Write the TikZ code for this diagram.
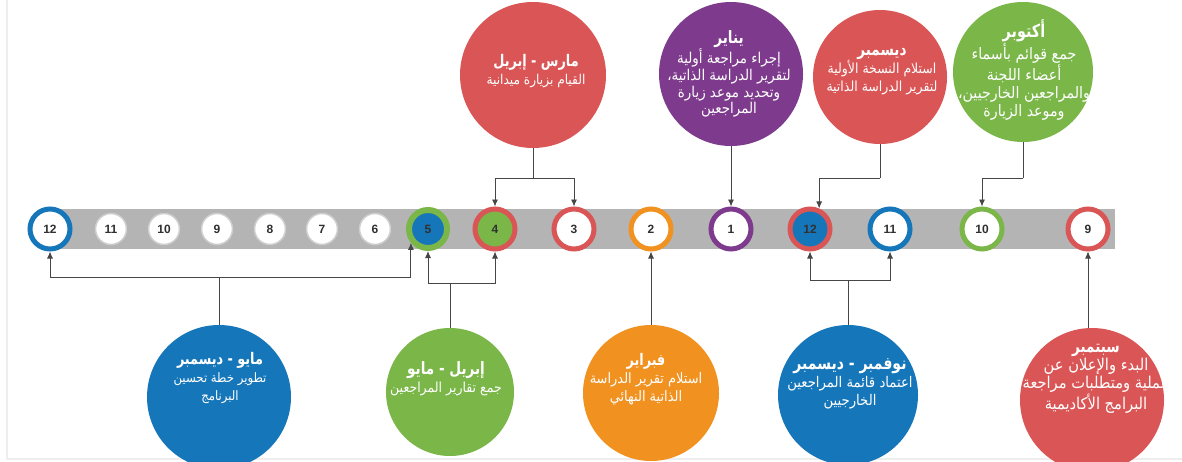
\documentclass[tikz,border=0pt]{standalone}
\usepackage{fontspec}
\setmainfont{Liberation Sans}
\newfontfamily\arabicfont[Script=Arabic,FakeStretch=0.9]{DejaVu Sans}
\newfontfamily\arabichead[Script=Arabic,FakeStretch=0.8]{DejaVu Sans}
\TeXXeTstate=1
\usetikzlibrary{arrows.meta}

% one right-to-left line
\newcommand\rl[1]{\beginR#1\endR}
% bold heading line of a bubble
\newcommand\hd[2][17]{{\arabichead\bfseries\fontsize{#1}{18}\selectfont\beginR#2\endR}}

\definecolor{cred}{RGB}{218,85,85}
\definecolor{cpurple}{RGB}{126,58,140}
\definecolor{cgreen}{RGB}{122,182,72}
\definecolor{corange}{RGB}{240,145,32}
\definecolor{cblue}{RGB}{22,118,186}
\definecolor{bargray}{RGB}{180,180,180}
\definecolor{halo}{RGB}{206,206,206}
\definecolor{numgray}{RGB}{48,48,48}
\definecolor{linegray}{RGB}{70,70,70}
\definecolor{framegray}{RGB}{238,238,238}

\tikzset{
  numfont/.style={font=\fontsize{12}{12}\selectfont\bfseries, text=numgray},
  ring/.style 2 args={circle, draw=#1, fill=#2, line width=5pt,
    minimum size=40pt, inner sep=0pt, numfont},
  dot/.style={circle, draw=halo, fill=white, line width=1.5pt,
    minimum size=31pt, inner sep=0pt, numfont},
  bubble/.style 2 args={circle, fill=#1, minimum size=#2, inner sep=0pt},
  txt/.style={align=center, inner sep=0pt, text=white,
    font=\arabicfont\fontsize{#1}{18}\selectfont},
  txt/.default=13.9,
  conn/.style={draw=linegray, line width=0.9pt},
  arr/.style={conn, -{Latex[length=7pt,width=6pt]}}
}

\begin{document}
\begin{tikzpicture}[x=1pt,y=-1pt]
\useasboundingbox (0,0) rectangle (1182,461);

% faint page frame
\draw[framegray, line width=1.5pt] (7,0) -- (7,459) -- (1182,459);

% timeline band
\fill[bargray] (50,209) rectangle (1115,249);

% month markers
\node[ring={cblue}{white}]   (r12a) at (50,229)  {12};
\node[dot]                   (d11)  at (111,229) {11};
\node[dot]                   (d10)  at (164,229) {10};
\node[dot]                   (d9)   at (217,229) {9};
\node[dot]                   (d8)   at (270,229) {8};
\node[dot]                   (d7)   at (322,229) {7};
\node[dot]                   (d6)   at (375,229) {6};
\node[ring={cgreen}{cblue}, line width=6pt, minimum size=38pt] (r5) at (428,229) {5};
\node[ring={cred}{cgreen}]   (r4)   at (495,229) {4};
\node[ring={cred}{white}]    (r3)   at (574,229) {3};
\node[ring={corange}{white}] (r2)   at (651,229) {2};
\node[ring={cpurple}{white}] (r1)   at (731,229) {1};
\node[ring={cred}{cblue}]    (r12b) at (810,229) {12};
\node[ring={cblue}{white}]   (r11b) at (890,229) {11};
\node[ring={cgreen}{white}]  (r10)  at (982,229) {10};
\node[ring={cred}{white}]    (r9)   at (1088,229) {9};

% upper bubbles
\node[bubble={cred}{146pt}]    (tMar) at (533,75)  {};
\node[bubble={cpurple}{144pt}] (tJan) at (731,74)  {};
\node[bubble={cred}{134pt}]    (tDec) at (880,77)  {};
\node[bubble={cgreen}{140pt}]  (tOct) at (1023,72) {};

% lower bubbles
\node[bubble={cblue}{144pt}]   (bMay) at (219,397) {};
\node[bubble={cgreen}{128pt}]  (bApr) at (450,392) {};
\node[bubble={corange}{136pt}] (bFeb) at (651,393) {};
\node[bubble={cblue}{140pt}]   (bNov) at (848,395) {};
\node[bubble={cred}{144pt}]    (bSep) at (1092,400) {};

% bubble texts
\node[txt=13.5] (xMar) at (536,71) {\hd[16]{مارس - إبريل}\\
  \rl{القيام بزيارة ميدانية}};
\node[txt, font=\arabicfont\fontsize{14.9}{16.8}\selectfont] (xJan) at (729,74) {\hd{يناير}\\
  \rl{إجراء مراجعة أولية}\\
  \rl{لتقرير الدراسة الذاتية،}\\
  \rl{وتحديد موعد زيارة}\\
  \rl{المراجعين}};
\node[txt] (xDec) at (882,72) {\hd{ديسمبر}\\
  \rl{استلام النسخة الأولية}\\
  \rl{لتقرير الدراسة الذاتية}};
\node[txt=15.8] (xOct) at (1024,70) {\hd[18]{أكتوبر}\\
  \rl{جمع قوائم بأسماء}\\
  \rl{أعضاء اللجنة}\\
  \rl{والمراجعين الخارجيين،}\\
  \rl{وموعد الزيارة}};
\node[txt=13] (xMay) at (220,378) {\hd[16]{مايو - ديسمبر}\\
  \rl{تطوير خطة تحسين}\\
  \rl{البرنامج}};
\node[txt] (xApr) at (446,379) {\hd{إبريل - مايو}\\
  \rl{جمع تقارير المراجعين}};
\node[txt=14.4] (xFeb) at (646,379) {\hd[16]{فبراير}\\
  \rl{استلام تقرير الدراسة}\\
  \rl{الذاتية النهائي}};
\node[txt=14.7] (xNov) at (850,384) {\hd[17.5]{نوفمبر - ديسمبر}\\
  \rl{اعتماد قائمة المراجعين}\\
  \rl{الخارجيين}};
\node[txt=16.3] (xSep) at (1096,379) {\hd{سبتمبر}\\
  \rl{البدء والإعلان عن}\\
  \rl{عملية ومتطلبات مراجعة}\\
  \rl{البرامج الأكاديمية}};

% bracket junctions
\coordinate (jMar) at (533,178);
\coordinate (jDec) at (880,178);
\coordinate (jOct) at (1023,178);
\coordinate (jMay) at (219,277);
\coordinate (jApr) at (450,283);
\coordinate (jNov) at (848,280);

% connectors from the upper bubbles
\draw[conn] (tMar.south) -- (jMar);
\draw[arr] (jMar) -| (r4.north);
\draw[arr] (jMar) -| (r3.north);
\draw[arr] (tJan.south) -- (r1.north);
\draw[conn] (tDec.south) -- (jDec);
\draw[arr] (jDec) -| (r12b.66);
\draw[conn] (tOct.south) -- (jOct);
\draw[arr] (jOct) -| (r10.north);

% connectors from the lower bubbles
\draw[conn] (bMay.north) -- (jMay);
\draw[arr] (jMay) -| (r12a.south);
\draw[arr] (jMay) -| (r5.219);
\draw[conn] (bApr.north) -- (jApr);
\draw[arr] (jApr) -| (r5.south);
\draw[arr] (jApr) -| (r4.south);
\draw[arr] (bFeb.north) -- (r2.south);
\draw[conn] (bNov.north) -- (jNov);
\draw[arr] (jNov) -| (r12b.south);
\draw[arr] (jNov) -| (r11b.south);
\draw[arr] (bSep.north -| r9.south) -- (r9.south);
\end{tikzpicture}
\end{document}
